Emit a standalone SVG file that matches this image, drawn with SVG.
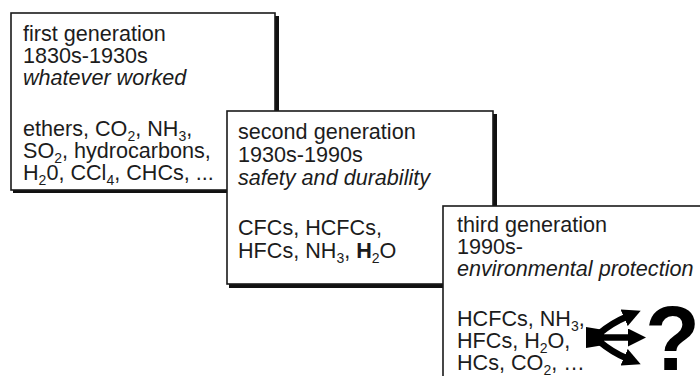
<svg xmlns="http://www.w3.org/2000/svg" width="700" height="376" viewBox="0 0 700 376">
<style>
.box{fill:#fff;stroke:#1a1a1a;stroke-width:1.6}
.shadow{fill:#111}
text{font-family:"Liberation Sans",Arial,Helvetica,sans-serif;font-size:21.6px;fill:#1c1c1c}
.it{font-style:italic}
.sub{font-size:14px;baseline-shift:-5px}
.b{font-weight:bold}
.q{font-weight:bold;font-size:90px;fill:#000}
.stem{fill:none;stroke:#000;stroke-width:6.5}
</style>
<defs>
<marker id="ah" markerUnits="userSpaceOnUse" markerWidth="18" markerHeight="18" refX="2" refY="9" orient="auto" viewBox="0 0 18 18">
<path d="M0,0 L18,9 L0,18 Z" fill="#000"/>
</marker>
</defs>
<rect width="700" height="376" fill="#fff"/>
<g id="node-first">
<rect class="shadow" x="275" y="16" width="4" height="177"/>
<rect class="shadow" x="13" y="189" width="266" height="4"/>
<rect class="box" x="11" y="13" width="264" height="177"/>
<text x="23" y="41">first generation</text>
<text x="23" y="63">1830s-1930s</text>
<text x="23" y="85" class="it">whatever worked</text>
<text x="23" y="136">ethers, CO<tspan class="sub">2</tspan>, NH<tspan class="sub">3</tspan>,</text>
<text x="23" y="158">SO<tspan class="sub">2</tspan>, hydrocarbons,</text>
<text x="23" y="180">H<tspan class="sub">2</tspan>0, CCl<tspan class="sub">4</tspan>, CHCs, ...</text>
</g>
<g id="node-second">
<rect class="shadow" x="493" y="114" width="4" height="174"/>
<rect class="shadow" x="229" y="284" width="268" height="4"/>
<rect class="box" x="227" y="111" width="266" height="173"/>
<text x="238" y="139">second generation</text>
<text x="238" y="162">1930s-1990s</text>
<text x="238" y="185" class="it">safety and durability</text>
<text x="238" y="235">CFCs, HCFCs,</text>
<text x="238" y="258">HFCs, NH<tspan class="sub">3</tspan>, <tspan class="b">H</tspan><tspan class="sub">2</tspan>O</text>
</g>
<g id="node-third">
<rect class="box" x="443" y="206" width="300" height="200"/>
<text x="457" y="232">third generation</text>
<text x="457" y="254">1990s-</text>
<text x="457" y="276" class="it">environmental protection</text>
<text x="457" y="326">HCFCs, NH<tspan class="sub">3</tspan>,</text>
<text x="457" y="348">HFCs, H<tspan class="sub">2</tspan>O,</text>
<text x="457" y="370">HCs, CO<tspan class="sub">2</tspan>, …</text>
<g id="icon-options">
<path d="M586,327 L604,330 L604,345 L586,348 Z" fill="#000"/>
<path class="stem" d="M600,333 Q612,323 626,317" marker-end="url(#ah)"/>
<path class="stem" d="M602,337.5 L630,337.5" marker-end="url(#ah)"/>
<path class="stem" d="M600,342 Q612,352 626,358" marker-end="url(#ah)"/>
<text x="645" y="370" class="q">?</text>
</g>
</g>
</svg>
